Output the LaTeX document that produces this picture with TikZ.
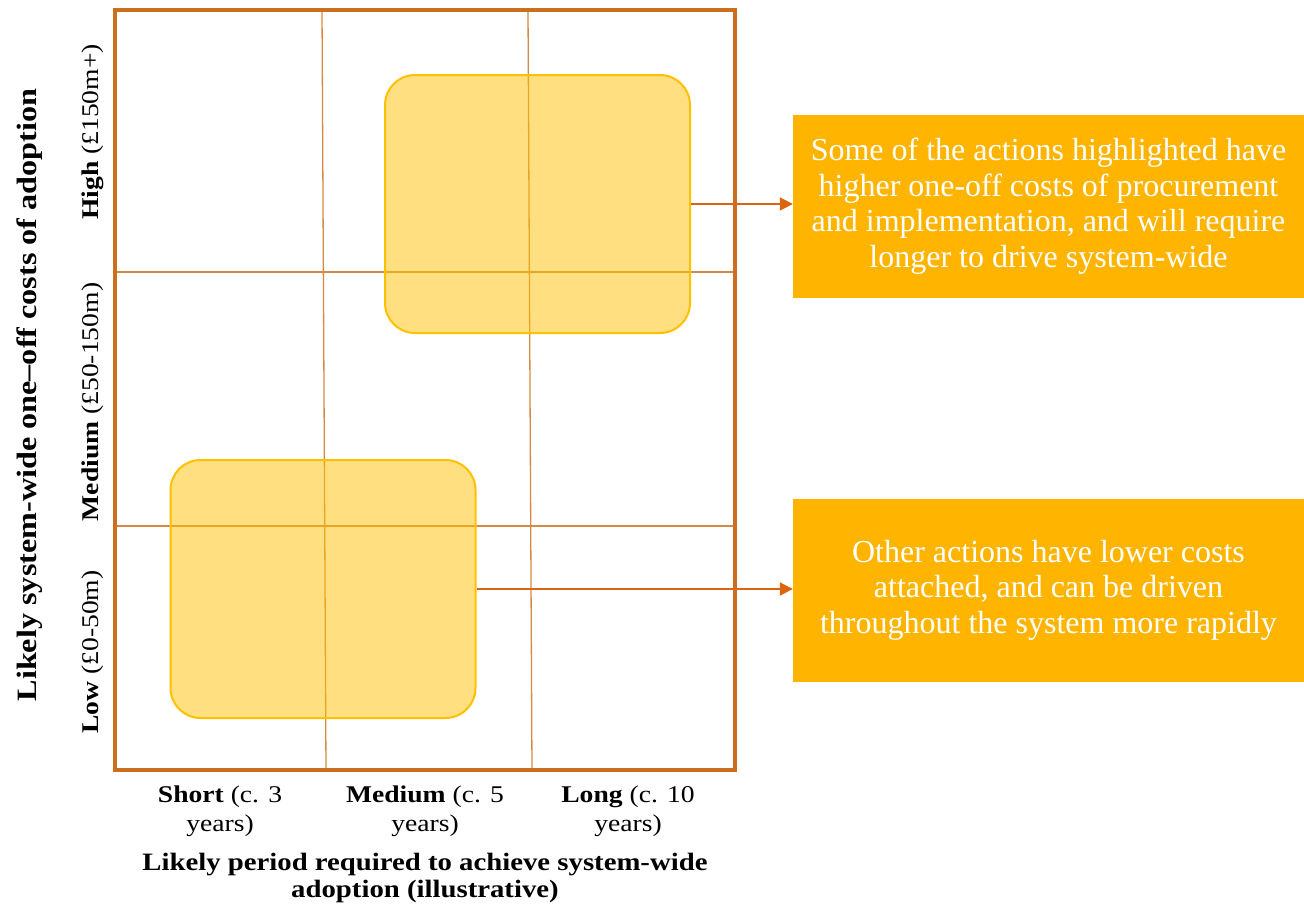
\documentclass[tikz,border=0pt]{standalone}
\usepackage{fontspec}
\setmainfont{Liberation Serif}
\newfontfamily\axfont[FakeStretch=1.15]{Liberation Serif}
\usetikzlibrary{arrows.meta}
\definecolor{frameor}{HTML}{CB6E1E}
\definecolor{gridor}{HTML}{D48A45}
\definecolor{boxgold}{HTML}{FFC000}
\definecolor{notebg}{HTML}{FFB400}
\definecolor{arrowor}{HTML}{DB640E}
\tikzset{
  gridline/.style={draw=gridor, line width=1.3pt},
  zone/.style={draw=boxgold, line width=2pt, fill=boxgold, fill opacity=0.5, rounded corners=30pt, minimum width=305pt, minimum height=258pt, inner sep=0pt},
  note/.style={fill=notebg, text=white, minimum width=511pt, minimum height=183pt, inner sep=0pt, align=center, font=\fontsize{32}{35.5}\selectfont},
  link/.style={draw=arrowor, line width=2pt, -{Triangle[length=13pt,width=13pt]}},
  ticklab/.style={font=\axfont\fontsize{24}{29}\selectfont, align=center},
  xtitlestyle/.style={font=\axfont\bfseries\fontsize{25}{27}\selectfont, align=center},
  ytitlestyle/.style={font=\axfont\bfseries\fontsize{28}{30}\selectfont, align=center}
}
\begin{document}
\begin{tikzpicture}[x=1pt,y=-1pt]
\useasboundingbox (0,0) rectangle (1304,908);
% grid
\coordinate (v1t) at (322,10); \coordinate (v1b) at (326,770);
\coordinate (v2t) at (528,10); \coordinate (v2b) at (532,770);
\coordinate (h1l) at (115,272); \coordinate (h1r) at (735,272);
\coordinate (h2l) at (115,526); \coordinate (h2r) at (735,526);
\draw[gridline] (v1t) -- (v1b);
\draw[gridline] (v2t) -- (v2b);
\draw[gridline] (h1l) -- (h1r);
\draw[gridline] (h2l) -- (h2r);
% zones
\node[zone] (high) at (537.5,204) {};
\node[zone] (low) at (323,589) {};
% frame
\node[draw=frameor, line width=3.5pt, minimum width=620pt, minimum height=760pt, inner sep=0pt] (frame) at (425,390) {};
% notes
\node[note] (nhigh) at (1048.5,206) {Some of the actions highlighted have\\higher one-off costs of procurement\\and implementation, and will require\\longer to drive system-wide};
\node[note] (nlow) at (1048.5,590) {Other actions have lower costs\\attached, and can be driven\\throughout the system more rapidly};
\draw[link] (high.east) -- (high.east -| nhigh.west);
\draw[link] (low.east) -- (low.east -| nlow.west);
% y axis
\node[ytitlestyle, rotate=90] (ytitle) at (30,395) {Likely system-wide one–off costs of adoption};
\node[ticklab, rotate=90] (thigh) at (93,132) {\textbf{High} (£150m+)};
\node[ticklab, rotate=90] (tmed) at (93,402) {\textbf{Medium} (£50-150m)};
\node[ticklab, rotate=90] (tlow) at (93,652) {\textbf{Low} (£0-50m)};
% x axis
\node[ticklab] (xshort) at (220,811) {\textbf{Short} (c. 3\\years)};
\node[ticklab] (xmed) at (425,811) {\textbf{Medium} (c. 5\\years)};
\node[ticklab] (xlong) at (628,811) {\textbf{Long} (c. 10\\years)};
\node[xtitlestyle] (xtitle) at (425,878) {Likely period required to achieve system-wide\\adoption (illustrative)};
\end{tikzpicture}
\end{document}
